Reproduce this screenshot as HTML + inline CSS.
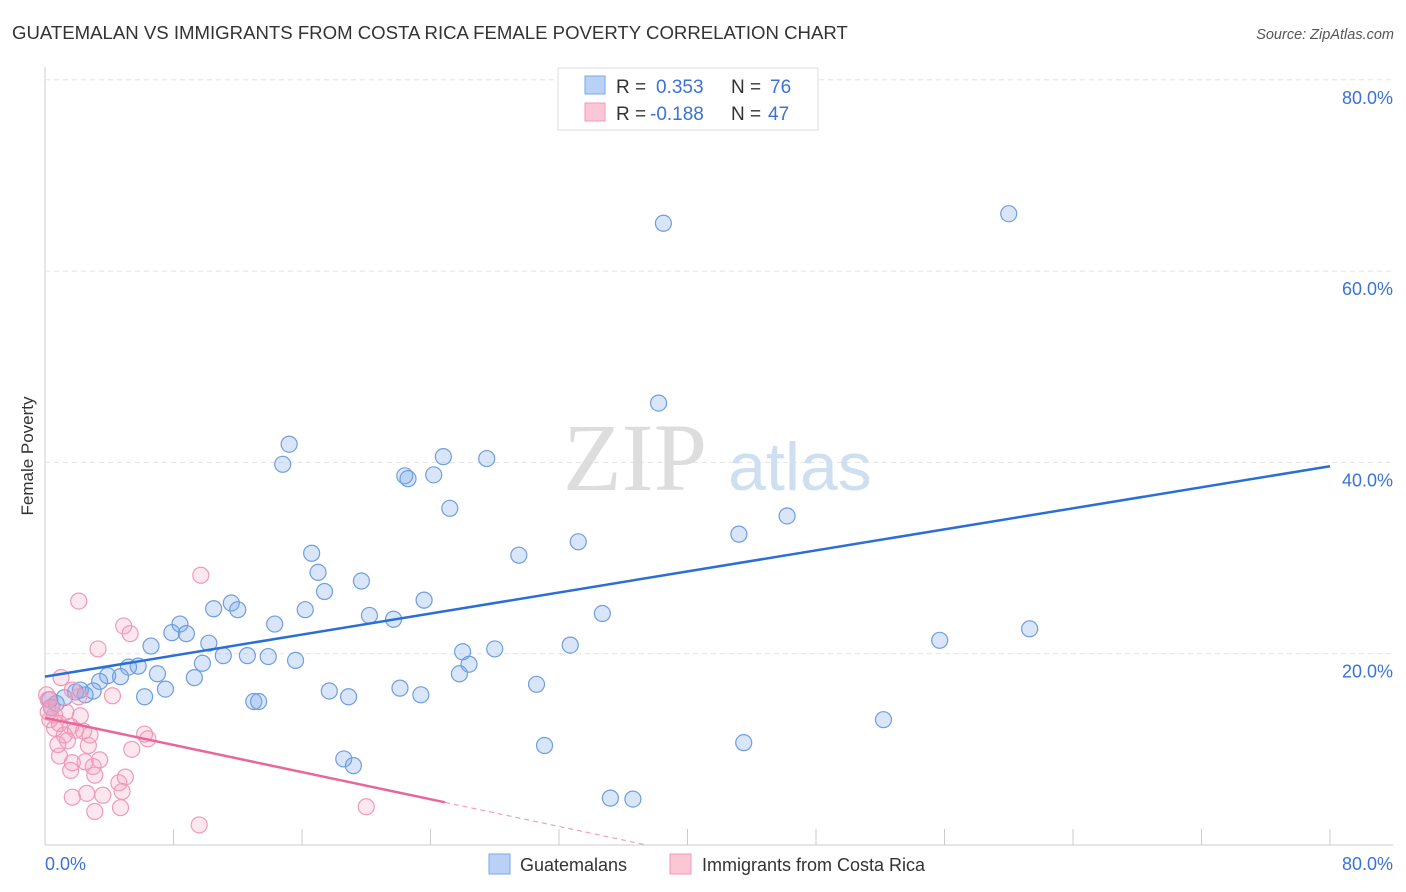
<!DOCTYPE html>
<html><head><meta charset="utf-8"><style>
body{margin:0;background:#fff;font-family:"Liberation Sans",sans-serif;}
svg{display:block}
</style></head><body>
<svg id="c" width="1406" height="892">
<text x="12" y="39" font-size="18.6" fill="#333">GUATEMALAN VS IMMIGRANTS FROM COSTA RICA FEMALE POVERTY CORRELATION CHART</text>
<text x="1394" y="39" font-size="14.5" fill="#555" font-style="italic" text-anchor="end">Source: ZipAtlas.com</text>
<text x="33" y="456" font-size="17" fill="#333" text-anchor="middle" transform="rotate(-90 33 456)">Female Poverty</text>
<g id="grid"></g>
<text x="635" y="490" font-size="96" fill="#ddd" font-family="Liberation Serif,serif" text-anchor="middle">ZIP</text>
<text x="800" y="490" font-size="68" fill="#cfdff2" text-anchor="middle">atlas</text>
<g id="pts"></g>
<g id="lines"></g>
<g>
<rect x="558" y="68" width="260" height="62" fill="#fff" stroke="#ddd"/>
<rect x="585" y="76" width="20" height="18" fill="#b9d1f4" stroke="#7ea6e3"/>
<rect x="585" y="103" width="20" height="18" fill="#fbc7d6" stroke="#f09ab8"/>
<text x="616" y="93" font-size="19" fill="#333">R = <tspan x="656" fill="#3a72d6">0.353</tspan><tspan x="731" fill="#333">N = </tspan><tspan x="770" fill="#3a72d6">76</tspan></text>
<text x="616" y="120" font-size="19" fill="#333">R = <tspan x="650" fill="#3a72d6">-0.188</tspan><tspan x="731" fill="#333">N = </tspan><tspan x="768" fill="#3a72d6">47</tspan></text>
</g>
<g>
<rect x="489" y="854" width="21" height="20" fill="#b9d1f4" stroke="#7ea6e3"/>
<text x="520" y="871" font-size="18" fill="#333">Guatemalans</text>
<rect x="670" y="854" width="21" height="20" fill="#fbc7d6" stroke="#f09ab8"/>
<text x="702" y="871" font-size="18" fill="#333">Immigrants from Costa Rica</text>
</g>
</svg>
<script>
const blueX=[38.5,60.0,38.2,15.2,14.8,24.8,27.5,22.4,22.6,24.2,25.2,46.2,43.2,29.5,33.2,16.6,17.0,17.4,19.7,23.6,20.2,21.7,34.7,16.2,11.6,12.0,10.5,8.4,7.9,8.8,6.6,10.2,11.1,12.6,13.9,15.6,14.3,55.7,61.3,26.0,28.0,32.7,26.4,25.8,30.6,9.8,9.3,7.0,7.5,6.2,5.8,5.2,4.7,3.9,3.4,3.0,2.5,1.9,1.2,0.7,0.4,13.0,13.3,17.7,18.9,22.1,23.4,52.2,31.1,43.5,18.6,19.2,35.2,36.6,2.2,0.3];
const blueY=[65.0,66.0,46.2,41.9,39.8,40.6,40.4,38.6,38.3,38.7,35.2,34.4,32.5,30.3,31.7,30.5,28.5,26.5,27.6,25.6,24.0,23.6,24.2,24.6,25.3,24.6,24.7,23.1,22.2,22.1,20.8,21.1,19.8,19.8,19.7,19.3,23.1,21.4,22.6,20.2,20.5,20.9,18.9,17.9,16.8,19.0,17.5,17.9,16.3,15.5,18.7,18.6,17.6,17.7,17.1,16.1,15.7,16.0,15.4,14.8,14.4,15.0,15.0,16.1,15.5,16.4,15.7,13.1,10.4,10.7,9.0,8.3,4.9,4.8,16.2,15.2];
const pinkX=[9.7,2.1,4.9,5.3,3.3,1.0,1.7,2.1,4.2,0.2,0.4,1.3,2.2,0.3,0.9,1.6,0.6,2.4,1.2,6.2,6.4,1.4,2.7,5.4,0.9,2.5,1.7,3.0,3.1,5.0,4.6,4.8,1.7,2.6,3.6,4.7,3.1,20.0,9.6,0.1,0.6,1.9,0.8,2.8,3.4,1.6,0.2];
const pinkY=[28.2,25.5,22.9,22.1,20.5,17.5,16.2,15.5,15.6,15.2,14.3,13.9,13.5,13.1,12.7,12.4,12.2,11.9,11.5,11.6,11.1,10.9,10.4,10.0,9.3,8.7,8.6,8.2,7.3,7.1,6.5,5.6,5.0,5.4,5.2,3.9,3.5,4.0,2.1,15.7,13.6,12.0,10.5,11.5,8.9,7.8,13.9];
const yTicks=[20,40,60,80];
const xTickVals=[8,16,24,32,40,48,56,64,72,80];
const blueFit=[17.6,39.6];
const pinkFit=[13.3,-0.355];
const NS='http://www.w3.org/2000/svg';
const sx=v=>45+v*16.0625, sy=v=>845-v*9.565;
function mk(tag,attrs,parent){const e=document.createElementNS(NS,tag);for(const k in attrs)e.setAttribute(k,attrs[k]);parent.appendChild(e);return e;}
const grid=document.getElementById('grid');
let ax=mk('line',{x1:45,y1:67,x2:45,y2:845,stroke:'#ccc'},grid);


let bx=mk('line',{x1:45,y1:845,x2:1393,y2:845,stroke:'#ccc'},grid);


yTicks.forEach(t=>{
 let g=mk('line',{x1:45,x2:1393,y1:sy(t),y2:sy(t),stroke:'#e3e3e3','stroke-dasharray':'5,4'},grid);
 
 
 let l=mk('text',{x:1393,y:sy(t)+24,'font-size':18,fill:'#3a72d6','text-anchor':'end'},grid);
 l.textContent=t.toFixed(1)+'%';
 
 
});
xTickVals.forEach(t=>{
 let m=mk('line',{x1:sx(t),x2:sx(t),y1:829,y2:845,stroke:'#ccc'},grid);
 
 
});
[[0,'start',45],[80,'end',1393]].forEach(([v,a,x])=>{
 let l=mk('text',{x:x,y:870,'font-size':18,fill:'#3a72d6','text-anchor':a},grid);
 l.textContent=v.toFixed(1)+'%';
 
 
});
const pts=document.getElementById('pts');
blueX.forEach((x,i)=>{
 let c=mk('circle',{cx:sx(x),cy:sy(blueY[i]),r:8,fill:'rgba(120,165,235,0.28)',stroke:'#6f9ee0','stroke-width':1.2},pts);
 
 
});
pinkX.forEach((x,i)=>{
 let c=mk('circle',{cx:sx(x),cy:sy(pinkY[i]),r:8,fill:'rgba(245,160,190,0.25)',stroke:'#f09ab8','stroke-width':1.2},pts);
 
 
});
const lines=document.getElementById('lines');
let bl=mk('line',{x1:sx(0),y1:sy(blueFit[0]),x2:sx(80),y2:sy(blueFit[1]),stroke:'#2a6fd6','stroke-width':2.5},lines);


const pf=x=>pinkFit[0]+pinkFit[1]*x;
let pl=mk('line',{x1:sx(0),y1:sy(pf(0)),x2:sx(24.9),y2:sy(pf(24.9)),stroke:'#e8679a','stroke-width':2.5},lines);


const x0=-pinkFit[0]/pinkFit[1];
let pd=mk('line',{x1:sx(24.9),y1:sy(pf(24.9)),x2:sx(x0),y2:sy(0),stroke:'#f0a0bf','stroke-width':1.2,'stroke-dasharray':'5,4'},lines);


</script>
</body></html>
